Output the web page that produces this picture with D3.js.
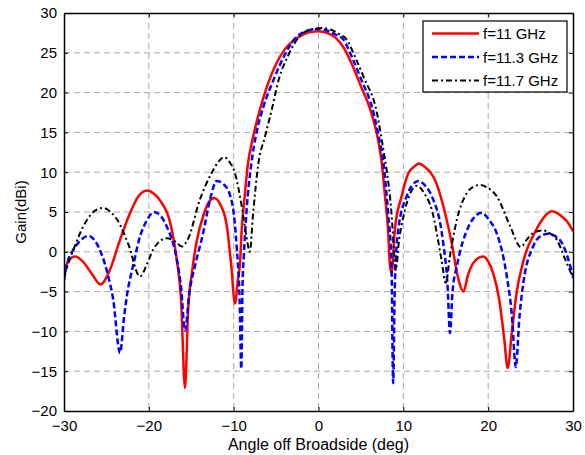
<!DOCTYPE html>
<html>
<head>
<meta charset="utf-8">
<script src="https://cdn.jsdelivr.net/npm/d3@7"></script>
<style>
  body { margin: 0; background: #fff; }
  svg { display: block; font-family: "Liberation Sans", Arial, sans-serif; }
</style>
</head>
<body>
<svg id="chart" width="585" height="455"></svg>
<script>
// Data: angle (deg), gain (dBi)
const red11 = [
  [-30, -2.3], [-29.5, -1.2], [-28.7, -0.6], [-27.8, -1.2], [-26.7, -2.8], [-25.7, -4.1],
  [-24.6, -2.3], [-23.4, 1.5], [-22.2, 4.9], [-21.2, 7.0], [-20.2, 7.7], [-19.4, 7.3],
  [-18.7, 6.5], [-17.3, 2.8], [-16.7, -1.0], [-16.2, -6], [-15.74, -17.1], [-15.35, -6.9],
  [-14.9, -2.5], [-14.4, 1.1], [-13.5, 4.8], [-12.9, 6.3], [-12.3, 6.75], [-11.6, 6.0],
  [-10.8, 3.2], [-10.3, -1.5], [-9.85, -6.5], [-9.5, -3.5], [-9.25, -1.4], [-9.05, 2.8],
  [-8.7, 7.0], [-8.3, 11.2], [-7.8, 14.0], [-7.0, 17.5], [-6.0, 21.0], [-5.0, 23.6],
  [-4.0, 25.4], [-3.0, 26.5], [-2.0, 27.2], [-1.0, 27.6], [0, 27.7], [1.0, 27.5],
  [2.0, 26.9], [3.0, 25.6], [4.0, 23.4], [5.0, 20.8], [6.1, 17.9], [7.0, 14.2],
  [7.45, 11.2], [7.84, 7.0], [8.2, 2.8], [8.4, -1.4], [8.6, -2.7], [9.0, 2.8],
  [9.8, 7.0], [10.6, 9.9], [11.4, 10.8], [11.8, 11.1], [12.5, 10.7], [13.9, 8.6],
  [15.0, 4.5], [15.7, 1.1], [16.4, -3.0], [17.1, -5.0], [17.6, -3.0], [18.25, -1.4],
  [19.4, -0.6], [20.0, -1.2], [20.6, -2.7], [21.3, -6.0], [21.9, -11], [22.3, -14.6],
  [22.8, -10.0], [23.4, -4.8], [24.0, -1.8], [24.55, 0.25], [25.3, 2.0], [26.1, 3.6],
  [26.8, 4.6], [27.5, 5.1], [28.5, 4.6], [29.3, 3.8], [30, 2.6]
];
const blue113 = [
  [-30, -3.5], [-29.5, -1.0], [-28.9, 0.25], [-28.0, 1.5], [-27.1, 2.0], [-26.3, 1.3],
  [-25.6, -0.2], [-24.8, -3.0], [-24.2, -6.0], [-23.4, -12.7], [-22.9, -8.0], [-22.6, -5.6],
  [-21.8, -1.5], [-21.05, 1.9], [-20.2, 4.0], [-19.4, 5.0], [-18.6, 4.5], [-17.9, 3.2],
  [-16.7, -1.0], [-16.2, -4.5], [-15.74, -9.9], [-15.2, -5.0], [-14.5, -1.5], [-13.6, 2.35],
  [-12.8, 6.5], [-12.0, 8.9], [-11.2, 8.5], [-10.4, 7.0], [-10.05, 5.3], [-9.65, 0.7],
  [-9.3, -6.0], [-9.1, -14.7], [-8.95, -4.0], [-8.8, -0.5], [-8.5, 4.9], [-7.9, 11.2],
  [-7.3, 15.0], [-6.5, 18.2], [-5.3, 21.6], [-3.95, 24.8], [-2.6, 27.0], [-1.5, 27.7],
  [0, 28.0], [1.0, 27.8], [2.0, 27.3], [2.9, 26.7], [4.0, 24.3], [4.9, 22.0],
  [6.5, 17.4], [7.0, 15.0], [7.65, 11.2], [8.2, 4.9], [8.6, -1.4], [8.8, -16.5],
  [9.0, -4.0], [9.4, 2.8], [10.4, 7.0], [11.0, 8.3], [11.8, 8.9], [12.5, 8.4],
  [13.35, 7.0], [14.7, 1.1], [15.2, -4.0], [15.5, -10.2], [15.8, -5.0], [16.3, -1.85],
  [17.7, 3.2], [18.5, 4.5], [19.25, 4.9], [20.1, 4.0], [21.0, 2.35], [22.2, -3.1],
  [22.8, -8.0], [23.25, -14.5], [23.7, -8.0], [24.15, -3.9], [25.3, 0.67], [26.2, 2.0],
  [27.1, 2.26], [28.0, 1.9], [28.7, 1.1], [29.4, -0.8], [30, -3.1]
];
const black117 = [
  [-30, -3.1], [-28.9, 0.25], [-27.3, 4.0], [-26.3, 5.2], [-25.4, 5.5], [-24.5, 5.0],
  [-23.6, 3.8], [-22.4, 0.9], [-21.05, -3.1], [-20.2, -1.5], [-19.5, 0.25], [-17.9, 1.7],
  [-16.9, 1.3], [-16.1, 0.67], [-15.35, 1.7], [-14.0, 6.5], [-12.6, 9.9], [-11.8, 11.3],
  [-11.1, 11.9], [-10.5, 11.3], [-9.85, 9.9], [-9.05, 5.7], [-8.5, 2.0], [-8.1, 0.0],
  [-7.7, 4.9], [-7.1, 11.0], [-6.3, 14.5], [-5.5, 17.9], [-4.7, 21.6], [-3.6, 24.6],
  [-2.2, 27.1], [-1.0, 27.9], [0.4, 28.1], [1.5, 27.9], [2.5, 27.3], [3.3, 26.7],
  [4.3, 24.5], [5.3, 22.0], [6.9, 17.4], [7.65, 12.8], [8.0, 10.5], [8.6, 4.9],
  [9.0, -1.4], [9.1, -2.3], [9.5, 1.5], [10.0, 4.4], [10.8, 7.3], [11.6, 8.3],
  [12.5, 7.3], [13.35, 5.3], [14.5, -1.0], [15.0, -3.9], [15.5, -0.5], [16.3, 4.0],
  [17.5, 7.4], [18.3, 8.2], [19.05, 8.4], [20.0, 8.0], [21.0, 7.0], [22.6, 3.2],
  [23.85, 0.6], [24.6, 1.6], [25.3, 2.35], [26.5, 2.7], [27.3, 2.3], [28.1, 1.5],
  [29.1, -1.0], [30, -3.3]
];

const seriesNames = ["f=11 GHz", "f=11.3 GHz", "f=11.7 GHz"];
const xTicks = [-30, -20, -10, 0, 10, 20, 30];
const yTicks = [-20, -15, -10, -5, 0, 5, 10, 15, 20, 25, 30];

const width = 585, height = 455;
const margin = {top: 13, right: 12, bottom: 44, left: 64};
const plotW = width - margin.left - margin.right,
      plotH = height - margin.top - margin.bottom;

const svg = d3.select("#chart");
const g = svg.append("g").attr("transform", `translate(${margin.left},${margin.top})`);

const x = d3.scaleLinear().domain([-30, 30]).range([0, plotW]);
const y = d3.scaleLinear().domain([-20, 30]).range([plotH, 0]);

// grid
g.append("g").selectAll("line").data(xTicks.slice(1, -1)).join("line")
  .attr("x1", d => x(d)).attr("x2", d => x(d))
  .attr("y1", 0).attr("y2", plotH)
  .attr("stroke", "#a8a8a8").attr("stroke-dasharray", "6,4").attr("stroke-width", 1);
g.append("g").selectAll("line").data(yTicks.slice(1, -1)).join("line")
  .attr("x1", 0).attr("x2", plotW)
  .attr("y1", d => y(d)).attr("y2", d => y(d))
  .attr("stroke", "#a8a8a8").attr("stroke-dasharray", "6,4").attr("stroke-width", 1);

// curves
const line = d3.line()
  .x(d => x(d[0])).y(d => y(d[1]))
  .curve(d3.curveMonotoneX);

const styles = [
  {data: red11, color: "#ff0000", dash: null, w: 2.5},
  {data: blue113, color: "#0000ff", dash: "6,3", w: 2.5},
  {data: black117, color: "#000000", dash: "6,3,2,3", w: 2}
];

svg.append("clipPath").attr("id", "clip")
  .append("rect").attr("width", plotW).attr("height", plotH);

g.append("g").attr("clip-path", "url(#clip)")
  .selectAll("path").data(styles).join("path")
  .attr("d", d => line(d.data))
  .attr("fill", "none")
  .attr("stroke", d => d.color)
  .attr("stroke-width", d => d.w)
  .attr("stroke-dasharray", d => d.dash)
  .attr("stroke-linejoin", "round");

// axes with inward ticks on all four sides
const tickLen = 4;
g.append("g").attr("transform", `translate(0,${plotH})`)
  .call(d3.axisBottom(x).tickValues(xTicks).tickSizeInner(-tickLen).tickSizeOuter(0).tickPadding(9));
g.append("g")
  .call(d3.axisLeft(y).tickValues(yTicks).tickSizeInner(-tickLen).tickSizeOuter(0).tickPadding(7));
g.append("g")
  .call(d3.axisTop(x).tickValues(xTicks).tickSizeInner(-tickLen).tickSizeOuter(0).tickFormat(""));
g.append("g").attr("transform", `translate(${plotW},0)`)
  .call(d3.axisRight(y).tickValues(yTicks).tickSizeInner(-tickLen).tickSizeOuter(0).tickFormat(""));

g.selectAll(".domain").attr("stroke", "#000").attr("stroke-width", 1.5);
g.selectAll(".tick line").attr("stroke", "#000");
g.selectAll(".tick text")
  .attr("fill", "#000")
  .style("font-size", "15px")
  .style("font-family", "'Liberation Sans', Arial, sans-serif");

// axis labels
svg.append("text")
  .attr("x", margin.left + plotW / 2).attr("y", 450)
  .attr("text-anchor", "middle")
  .style("font-size", "16px")
  .text("Angle off Broadside (deg)");

svg.append("text")
  .attr("transform", `translate(26,${margin.top + plotH / 2}) rotate(-90)`)
  .attr("text-anchor", "middle")
  .style("font-size", "15px")
  .text("Gain(dBi)");

// legend
const legend = g.append("g").attr("transform", `translate(${plotW - 150},8)`);
legend.append("rect")
  .attr("width", 144).attr("height", 71)
  .attr("fill", "#fff").attr("stroke", "#000").attr("stroke-width", 1.2);
styles.forEach((s, i) => {
  const ly = 12.5 + i * 23.5;
  legend.append("line")
    .attr("x1", 9).attr("x2", 56).attr("y1", ly).attr("y2", ly)
    .attr("stroke", s.color).attr("stroke-width", s.w)
    .attr("stroke-dasharray", s.dash);
  legend.append("text")
    .attr("x", 60).attr("y", ly + 5.5)
    .style("font-size", "15px")
    .text(seriesNames[i]);
});
</script>
</body>
</html>
